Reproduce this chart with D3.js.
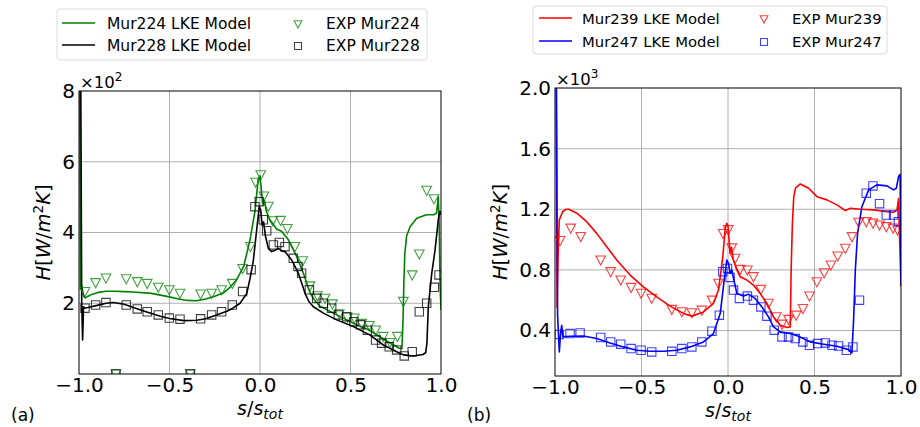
<!DOCTYPE html>
<html><head><meta charset="utf-8">
<script src="https://cdn.jsdelivr.net/npm/d3@7"></script>
<style>body{margin:0;background:#fff}svg{display:block}text{font-family:"DejaVu Sans",sans-serif}</style>
</head><body>
<svg id="c" width="920" height="427"></svg>
<script>
// ---------- DATA (panel a: units of 10^2 W/m2K, panel b: units of 10^3 W/m2K) ----------
const xTicks = [-1.0, -0.5, 0.0, 0.5, 1.0];
const yTicksA = [2, 4, 6, 8];
const yTicksB = [0.4, 0.8, 1.2, 1.6, 2.0];

const mur224Model = [[-1.0,9.0],[-0.996,8.5],[-0.992,2.4],[-0.985,2.5],[-0.975,2.2],[-0.965,2.15],[-0.95,2.2],[-0.93,2.25],[-0.9,2.3],[-0.85,2.34],[-0.8,2.34],[-0.75,2.33],[-0.7,2.32],[-0.6,2.28],[-0.5,2.18],[-0.45,2.12],[-0.4,2.08],[-0.35,2.07],[-0.3,2.12],[-0.25,2.2],[-0.2,2.3],[-0.166,2.45],[-0.13,2.66],[-0.09,3.04],[-0.055,3.8],[-0.028,4.6],[-0.01,5.5],[0.0,5.6],[0.008,5.2],[0.015,4.8],[0.025,4.9],[0.035,4.6],[0.055,4.36],[0.092,4.1],[0.12,4.03],[0.156,3.8],[0.2,3.35],[0.24,2.85],[0.276,2.3],[0.3,2.1],[0.33,1.92],[0.39,1.76],[0.46,1.58],[0.53,1.4],[0.6,1.25],[0.66,1.06],[0.72,0.87],[0.77,0.73],[0.784,0.72],[0.79,1.5],[0.795,2.6],[0.80,3.4],[0.81,3.9],[0.83,4.17],[0.866,4.4],[0.92,4.5],[0.96,4.5],[0.975,4.55],[0.985,5.0],[0.99,4.2],[0.995,2.5],[1.0,1.8]];
const mur228Model = [[-1.0,9.0],[-0.99,8.0],[-0.985,2.0],[-0.98,0.96],[-0.975,1.9],[-0.97,1.86],[-0.95,1.88],[-0.9,1.94],[-0.85,2.0],[-0.81,2.02],[-0.75,1.97],[-0.7,1.88],[-0.63,1.76],[-0.55,1.63],[-0.5,1.57],[-0.42,1.51],[-0.35,1.52],[-0.3,1.56],[-0.24,1.67],[-0.18,1.78],[-0.15,1.86],[-0.11,2.0],[-0.073,2.28],[-0.055,2.7],[-0.037,3.2],[-0.02,4.0],[-0.004,4.73],[0.004,4.64],[0.012,4.2],[0.02,4.3],[0.03,3.9],[0.046,3.55],[0.064,3.46],[0.085,3.5],[0.101,3.55],[0.12,3.48],[0.138,3.46],[0.175,3.22],[0.212,2.85],[0.249,2.28],[0.27,2.05],[0.295,1.9],[0.35,1.72],[0.424,1.53],[0.516,1.34],[0.608,1.1],[0.682,0.82],[0.755,0.63],[0.792,0.54],[0.847,0.51],[0.9,0.55],[0.915,0.6],[0.922,0.85],[0.93,1.9],[0.949,2.85],[0.967,3.5],[0.985,4.36],[0.994,4.6],[1.0,4.5]];
const exp224 = [[-0.967,2.33],[-0.908,2.58],[-0.851,2.71],[-0.796,0.0],[-0.739,2.69],[-0.678,2.61],[-0.623,2.56],[-0.562,2.45],[-0.501,2.38],[-0.442,2.28],[-0.385,0.0],[-0.328,2.26],[-0.267,2.28],[-0.212,2.38],[-0.153,2.56],[-0.096,2.98],[-0.053,3.6],[-0.024,5.42],[0.004,5.63],[0.022,5.03],[0.046,4.74],[0.070,4.33],[0.114,4.34],[0.151,4.11],[0.193,3.6],[0.236,3.2],[0.276,2.49],[0.317,2.21],[0.359,2.14],[0.400,1.98],[0.438,1.70],[0.483,1.60],[0.521,1.58],[0.562,1.43],[0.604,1.37],[0.639,1.24],[0.681,1.06],[0.718,0.89],[0.759,1.06],[0.792,2.05],[0.841,2.80],[0.880,3.39],[0.921,5.19],[0.961,4.95]];
const exp228 = [[-0.967,1.86],[-0.908,1.95],[-0.851,2.02],[-0.796,0.0],[-0.739,1.95],[-0.678,1.84],[-0.623,1.76],[-0.562,1.67],[-0.501,1.58],[-0.442,1.55],[-0.385,0.0],[-0.328,1.56],[-0.267,1.67],[-0.212,1.76],[-0.153,1.95],[-0.096,2.33],[-0.049,2.95],[-0.028,4.73],[-0.004,4.87],[0.018,4.36],[0.037,4.05],[0.074,3.65],[0.107,3.72],[0.138,3.60],[0.184,3.27],[0.210,3.04],[0.230,2.85],[0.273,2.38],[0.313,2.14],[0.350,2.00],[0.396,1.86],[0.433,1.67],[0.479,1.62],[0.519,1.48],[0.556,1.39],[0.593,1.24],[0.639,0.96],[0.672,0.87],[0.714,0.77],[0.755,0.68],[0.797,0.51],[0.841,0.63],[0.880,1.76],[0.921,2.00],[0.963,2.45],[0.989,2.80]];

const mur239Model = [[-1.0,2.2],[-0.992,2.1],[-0.988,0.55],[-0.982,0.9],[-0.975,1.13],[-0.968,1.15],[-0.955,1.185],[-0.935,1.2],[-0.92,1.2],[-0.874,1.174],[-0.817,1.118],[-0.759,1.041],[-0.701,0.953],[-0.643,0.865],[-0.566,0.766],[-0.489,0.688],[-0.412,0.622],[-0.335,0.561],[-0.258,0.513],[-0.209,0.495],[-0.142,0.523],[-0.084,0.579],[-0.055,0.667],[-0.03,0.887],[-0.016,1.074],[-0.007,1.107],[0.0,1.09],[0.006,1.0],[0.012,0.909],[0.02,0.95],[0.03,0.87],[0.051,0.8],[0.07,0.755],[0.109,0.733],[0.147,0.70],[0.186,0.645],[0.225,0.579],[0.263,0.49],[0.302,0.435],[0.341,0.42],[0.36,0.424],[0.365,0.8],[0.372,1.1],[0.38,1.28],[0.39,1.34],[0.418,1.367],[0.466,1.339],[0.514,1.283],[0.572,1.262],[0.63,1.229],[0.678,1.191],[0.707,1.207],[0.765,1.2],[0.842,1.196],[0.919,1.184],[0.957,1.18],[0.977,1.196],[0.986,1.27],[0.992,1.0],[1.0,0.69]];
const mur247Model = [[-1.0,2.2],[-0.993,2.1],[-0.985,0.5],[-0.975,0.259],[-0.968,0.38],[-0.961,0.435],[-0.955,0.358],[-0.913,0.362],[-0.836,0.364],[-0.759,0.347],[-0.682,0.318],[-0.605,0.292],[-0.527,0.27],[-0.45,0.263],[-0.373,0.263],[-0.296,0.27],[-0.219,0.292],[-0.142,0.325],[-0.084,0.38],[-0.045,0.512],[-0.022,0.733],[-0.007,0.865],[0.003,0.843],[0.012,0.777],[0.022,0.8],[0.03,0.755],[0.051,0.645],[0.089,0.627],[0.118,0.64],[0.157,0.612],[0.196,0.556],[0.234,0.49],[0.263,0.424],[0.302,0.391],[0.36,0.38],[0.408,0.362],[0.475,0.325],[0.553,0.31],[0.63,0.296],[0.697,0.274],[0.716,0.252],[0.726,0.468],[0.736,0.799],[0.749,1.041],[0.774,1.217],[0.813,1.328],[0.861,1.361],[0.919,1.354],[0.957,1.328],[0.973,1.339],[0.986,1.416],[0.995,1.43],[1.0,0.7]];
const exp239 = [[-0.971,0.993],[-0.909,1.075],[-0.851,1.02],[-0.736,0.865],[-0.678,0.788],[-0.620,0.733],[-0.560,0.684],[-0.502,0.645],[-0.441,0.612],[-0.325,0.539],[-0.267,0.523],[-0.209,0.517],[-0.151,0.534],[-0.093,0.60],[-0.055,0.711],[-0.028,1.04],[0.001,1.065],[0.022,0.945],[0.041,0.876],[0.070,0.803],[0.112,0.799],[0.147,0.755],[0.190,0.671],[0.234,0.579],[0.279,0.49],[0.312,0.442],[0.350,0.473],[0.394,0.501],[0.433,0.545],[0.471,0.627],[0.514,0.721],[0.556,0.781],[0.595,0.832],[0.634,0.891],[0.678,0.942],[0.717,1.019],[0.755,1.114],[0.799,1.118],[0.838,1.108],[0.876,1.096],[0.915,1.085],[0.954,1.075],[0.980,1.063]];
const exp247 = [[-0.975,0.374],[-0.913,0.380],[-0.855,0.384],[-0.736,0.354],[-0.678,0.325],[-0.620,0.31],[-0.560,0.281],[-0.502,0.27],[-0.441,0.259],[-0.325,0.263],[-0.267,0.281],[-0.209,0.292],[-0.151,0.325],[-0.093,0.396],[-0.050,0.501],[-0.030,0.788],[-0.003,0.81],[0.012,0.75],[0.032,0.667],[0.066,0.612],[0.112,0.627],[0.147,0.60],[0.190,0.556],[0.225,0.495],[0.267,0.402],[0.312,0.358],[0.350,0.358],[0.389,0.347],[0.433,0.325],[0.471,0.303],[0.518,0.314],[0.562,0.318],[0.601,0.303],[0.639,0.298],[0.684,0.27],[0.722,0.292],[0.760,0.60],[0.799,1.306],[0.838,1.354],[0.876,1.237],[0.915,1.162],[0.957,1.162],[0.985,1.118]];

const legendA = ["Mur224 LKE Model", "Mur228 LKE Model", "EXP Mur224", "EXP Mur228"];
const legendB = ["Mur239 LKE Model", "Mur247 LKE Model", "EXP Mur239", "EXP Mur247"];

// ---------- DRAWING ----------
const svg = d3.select("#c");
const fmt1 = d => d3.format(".1f")(d).replace("-", "\u2212");

function triPath(r){ return `M${-r},${-r*0.85}L${r},${-r*0.85}L0,${r*1.05}Z`; }
function sqPath(r){ return `M${-r},${-r}H${r}V${r}H${-r}Z`; }

function panel(o){
  const x = d3.scaleLinear().domain([-1,1]).range([o.x0,o.x1]);
  const y = d3.scaleLinear().domain(o.ydom).range([o.y1,o.y0]);
  const g = svg.append("g");
  const cid = "clip"+o.id;
  svg.append("defs").append("clipPath").attr("id",cid).append("rect")
    .attr("x",o.x0).attr("y",o.y0).attr("width",o.x1-o.x0).attr("height",o.y1-o.y0);
  // grid
  g.append("g").selectAll("line").data(xTicks.slice(1,-1)).join("line")
    .attr("x1",d=>x(d)).attr("x2",d=>x(d)).attr("y1",o.y0).attr("y2",o.y1)
    .attr("stroke","#b0b0b0").attr("stroke-width",1);
  g.append("g").selectAll("line").data(o.yticks.filter(d=>d<o.ydom[1])).join("line")
    .attr("y1",d=>y(d)).attr("y2",d=>y(d)).attr("x1",o.x0).attr("x2",o.x1)
    .attr("stroke","#b0b0b0").attr("stroke-width",1);
  // data
  const plot = g.append("g").attr("clip-path",`url(#${cid})`);
  const line = d3.line().x(d=>x(d[0])).y(d=>y(d[1]));
  o.lines.forEach(l=>{
    plot.append("path").datum(l.data).attr("d",line).attr("fill","none")
      .attr("stroke",l.color).attr("stroke-width",1.6).attr("stroke-linejoin","round");
  });
  o.marks.forEach(m=>{
    plot.append("g").selectAll("path").data(m.data).join("path")
      .attr("transform",d=>`translate(${x(d[0])},${y(d[1])})`)
      .attr("d", m.shape==="tri"?triPath(4.8):sqPath(4.2))
      .attr("fill","none").attr("stroke",m.color).attr("stroke-opacity",0.75).attr("stroke-width",1.1);
  });
  // axes
  const ax = d3.axisBottom(x).tickValues(xTicks).tickFormat(fmt1).tickSize(0).tickPadding(4);
  const gx = g.append("g").attr("transform",`translate(0,${o.y1})`).call(ax);
  gx.select(".domain").remove();
  gx.selectAll("text").attr("font-size",o.tickFont).attr("fill","#000").attr("font-family","DejaVu Sans");
  const ay = d3.axisLeft(y).tickValues(o.yticks).tickFormat(o.yfmt).tickSize(0).tickPadding(4);
  const gy = g.append("g").attr("transform",`translate(${o.x0},0)`).call(ay);
  gy.select(".domain").remove();
  gy.selectAll("text").attr("font-size",o.tickFont).attr("fill","#000").attr("font-family","DejaVu Sans");
  g.append("rect").attr("x",o.x0).attr("y",o.y0).attr("width",o.x1-o.x0).attr("height",o.y1-o.y0)
    .attr("fill","none").attr("stroke","#000").attr("stroke-width",1);
  // multiplier
  const mt = g.append("text").attr("x",o.x0+1).attr("y",o.y0-3).attr("font-size",16.5);
  mt.append("tspan").text("\u00d710");
  mt.append("tspan").attr("dy",-7).attr("font-size",12).text(o.exp);
  // y label
  const yl = g.append("text").attr("transform",`translate(${o.ylx},${(o.y0+o.y1)/2}) rotate(-90)`)
    .attr("text-anchor","middle").attr("font-size",19.5);
  yl.append("tspan").attr("font-style","italic").text("H");
  yl.append("tspan").text("[");
  yl.append("tspan").attr("font-style","italic").text("W");
  yl.append("tspan").text("/");
  yl.append("tspan").attr("font-style","italic").text("m");
  yl.append("tspan").attr("dy",-7).attr("font-size",13.5).text("2");
  yl.append("tspan").attr("dy",7).attr("font-style","italic").text("K");
  yl.append("tspan").text("]");
  // x label
  const xl = g.append("text").attr("x",(o.x0+o.x1)/2).attr("y",o.y1+40.5).attr("text-anchor","middle").attr("font-size",19);
  xl.append("tspan").attr("font-style","italic").text("s");
  xl.append("tspan").text("/");
  xl.append("tspan").attr("font-style","italic").text("s");
  xl.append("tspan").attr("dy",4).attr("font-size",14).attr("font-style","italic").text("tot");
  // panel letter
  g.append("text").attr("x",o.letterX).attr("y",421)
    .attr("font-family","'Liberation Serif', 'DejaVu Serif', serif").attr("font-size",17).text(o.letter);
  // legend
  const L = o.legend;
  g.append("rect").attr("x",L.x).attr("y",L.y).attr("width",L.w).attr("height",L.h)
    .attr("rx",3).attr("fill","#fff").attr("stroke","#dcdcdc").attr("stroke-width",1);
  [0,1].forEach(i=>{
    const yy = L.rows[i];
    g.append("line").attr("x1",L.lx).attr("x2",L.lx+33).attr("y1",yy).attr("y2",yy)
      .attr("stroke",o.lines[i].color).attr("stroke-width",1.6);
    g.append("text").attr("x",L.tx).attr("y",yy+5.5).attr("font-size",L.fs).text(o.legendText[i]);
    g.append("path").attr("transform",`translate(${L.mx},${yy+1})`)
      .attr("d", o.marks[i].shape==="tri"?triPath(3.9):sqPath(3.5))
      .attr("fill","none").attr("stroke",o.marks[i].color).attr("stroke-opacity",0.75).attr("stroke-width",1.1);
    g.append("text").attr("x",L.mtx).attr("y",yy+5.5).attr("font-size",L.fs).text(o.legendText[i+2]);
  });
}

panel({id:"a", x0:79, x1:441, y0:91, y1:374, ydom:[0,8], yticks:yTicksA, yfmt:d3.format("d"), exp:"2",
  ylx:50, letter:"(a)", letterX:11, tickFont:20,
  lines:[{data:mur224Model,color:"#008000"},{data:mur228Model,color:"#000000"}],
  marks:[{data:exp224,color:"#008000",shape:"tri"},{data:exp228,color:"#000000",shape:"sq"}],
  legendText:legendA,
  legend:{x:57,y:9,w:370,h:51,rows:[23,45],lx:62,tx:107,mx:298,mtx:326,fs:15.5}
});
panel({id:"b", x0:555, x1:901, y0:88, y1:376, ydom:[0.1,2.0], yticks:yTicksB, yfmt:d3.format(".1f"), exp:"3",
  ylx:507, letter:"(b)", letterX:467, tickFont:20,
  lines:[{data:mur239Model,color:"#ff0000"},{data:mur247Model,color:"#0000ff"}],
  marks:[{data:exp239,color:"#ff0000",shape:"tri"},{data:exp247,color:"#0000ff",shape:"sq"}],
  legendText:legendB,
  legend:{x:533,y:6,w:354,h:48,rows:[18,41],lx:539,tx:582,mx:764,mtx:792,fs:14.8}
});
</script>
</body></html>
